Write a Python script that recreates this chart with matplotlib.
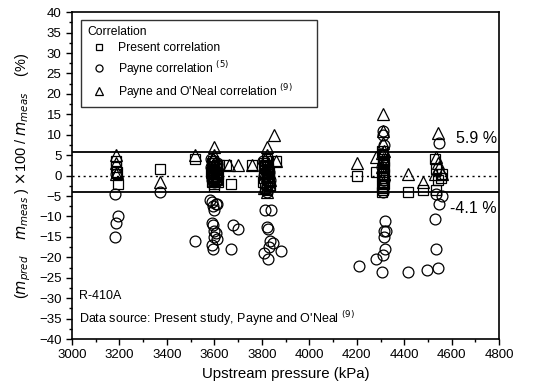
import matplotlib
matplotlib.use('Agg')
import matplotlib.pyplot as plt
from matplotlib.ticker import MultipleLocator

plt.rcParams['font.family'] = ['Liberation Sans', 'DejaVu Sans']

# Present correlation (squares)
present_p = [3185, 3185, 3190, 3195, 3370, 3520,
             3590, 3595, 3600, 3600, 3605, 3610, 3595, 3600, 3605, 3590, 3615, 3620,
             3585, 3590, 3595, 3600, 3605, 3610, 3615, 3590, 3600, 3610,
             3650, 3670, 3760,
             3810, 3815, 3820, 3825, 3830, 3820, 3815, 3825, 3830, 3820,
             3805, 3810, 3815, 3820, 3825, 3830, 3835, 3810, 3820, 3830, 3860,
             4200, 4280,
             4305, 4310, 4310, 4315, 4310, 4305, 4310, 4315, 4310, 4305, 4310,
             4310, 4315, 4305, 4310, 4315,
             4415, 4480, 4530, 4535, 4540, 4535, 4555, 4560]
present_e = [3.5, 2.0, 1.0, -2.0, 1.5, 4.0,
             3.0, 2.0, 1.0, 0.0, -1.0, 2.5, -0.5, -2.5, 1.5, 0.5, -1.5, 2.5,
             1.0, -1.5, 3.5, -2.0, 0.0, 1.0, 0.5, 2.0, 3.0, -1.0,
             2.5, -2.0, 2.5,
             3.0, 2.0, 1.0, 0.0, -1.0, -2.0, -3.0, 1.5, -0.5, 4.0,
             -1.5, 0.5, 2.5, -3.5, 3.5, 1.0, -2.5, -0.5, 2.0, -1.5, 3.5,
             0.0, 1.0,
             6.0, 5.0, 3.0, 2.0, 1.0, 0.0, -1.0, -2.0, -3.0, -4.0, 4.0,
             -0.5, 0.5, -2.5, -3.5, 3.5,
             -4.0, -3.5, 4.0, 1.5, -1.0, -3.5, -0.5, 0.5]

# Payne correlation (circles)
payne_p = [3180, 3195, 3185, 3180, 3185, 3370, 3520,
           3580, 3590, 3595, 3600, 3605, 3610, 3590, 3595, 3600, 3605, 3610, 3590,
           3595, 3600, 3585, 3610, 3600, 3595, 3605,
           3590, 3600, 3610, 3595, 3605, 3585, 3600,
           3670, 3680, 3700,
           3815, 3840, 3820, 3825, 3835, 3845, 3830, 3810, 3825, 3880, 3820,
           3805, 3815, 3825, 3835, 3820, 3830, 3810,
           4210, 4280, 4305, 4310, 4315, 4320, 4325, 4315, 4320, 4310,
           4310, 4315, 4310, 4305, 4315, 4310,
           4415, 4495, 4540, 4535, 4530, 4545, 4560, 4545, 4535]
payne_e = [-4.5, -10.0, -11.5, -15.0, 0.5, -4.0, -16.0,
           -6.0, -6.5, -7.5, -8.5, -7.0, -7.0, -11.5, -12.0, -13.5, -14.0, -15.5, -17.0,
           -18.0, -15.0, 4.0, 3.0, 2.0, 1.0, 0.0,
           -1.0, 1.5, 2.5, -0.5, 0.5, 2.0, -1.5,
           -18.0, -12.0, -13.0,
           -8.5, -8.5, -12.5, -13.0, -16.0, -16.5, -17.5, -19.0, -20.5, -18.5, -4.0,
           3.5, 2.0, 0.5, -1.0, -2.5, 1.0, 0.0,
           -22.0, -20.5, -23.5, -19.5, -13.5, -11.0, -13.5, -15.0, -18.0, 11.0,
           10.0, 7.5, 5.0, 2.0, -1.0, -4.0,
           -23.5, -23.0, -22.5, -18.0, -10.5, -7.0, -5.0, 8.0, -4.5]

# Payne and O'Neal correlation (triangles)
oneal_p = [3185, 3185, 3190, 3185, 3370, 3520,
           3600, 3600, 3595, 3605, 3600, 3590, 3610, 3600, 3595, 3605,
           3660, 3700, 3760,
           3820, 3820, 3815, 3825, 3820, 3830, 3815, 3850, 3860,
           3810, 3825, 3835, 3820,
           4200, 4280,
           4310, 4310, 4310, 4305, 4315, 4310, 4305, 4315, 4310,
           4415, 4480, 4540, 4535, 4540, 4545, 4530, 4560]
oneal_e = [5.0, 3.0, 1.0, 0.5, -1.5, 5.0,
           7.0, 5.0, 4.0, 2.0, 0.0, 1.0, 3.0, -1.0, 2.5, -0.5,
           2.5, 2.5, 2.5,
           7.0, 5.0, 4.0, 2.0, 0.0, -2.0, 1.0, 10.0, 3.5,
           -3.0, 3.0, -1.0, -4.0,
           3.0, 4.5,
           15.0, 11.0, 8.0, 5.5, 6.0, 4.0, 2.0, 0.5, -1.5,
           0.5, -1.5, 10.5, 4.5, 3.0, 2.0, 0.5, 0.5]

upper_band = 5.9
lower_band = -4.1

fig = plt.figure(figsize=(5.45, 3.92), dpi=100)
ax = fig.add_axes([0.132, 0.135, 0.784, 0.834])

mk = dict(linestyle='none', markerfacecolor='none', markeredgecolor='black', markeredgewidth=0.9)
ax.plot(present_p, present_e, marker='s', markersize=6.5, label='Present correlation', **mk)
ax.plot(payne_p, payne_e, marker='o', markersize=7.8, label='Payne correlation $^{(5)}$', **mk)
ax.plot(oneal_p, oneal_e, marker='^', markersize=8, label="Payne and O'Neal correlation $^{(9)}$", **mk)

# error band and zero line
ax.axhline(upper_band, color='black', lw=1.3)
ax.axhline(lower_band, color='black', lw=1.3)
ax.axhline(0, color='black', lw=1.0, ls=(0, (1.5, 2.5)))
ax.text(4790, 9.2, f'{upper_band} %', ha='right', va='center', fontsize=11.5)
ax.text(4790, -8.0, f'{lower_band} %', ha='right', va='center', fontsize=11.5)

ax.text(3030, -29.5, 'R-410A', fontsize=9, va='center')
ax.text(3030, -35, "Data source: Present study, Payne and O'Neal $^{(9)}$", fontsize=9, va='center')

ax.set_xlim(3000, 4800)
ax.set_ylim(-40, 40)
ax.xaxis.set_major_locator(MultipleLocator(200))
ax.xaxis.set_minor_locator(MultipleLocator(100))
ax.yaxis.set_major_locator(MultipleLocator(5))
ax.yaxis.set_minor_locator(MultipleLocator(2.5))
ax.tick_params(which='both', direction='out', labelsize=9.5, width=1)
ax.tick_params(which='major', length=4)
ax.tick_params(which='minor', length=2)
for s in ax.spines.values():
    s.set_linewidth(1.2)

ax.set_xlabel('Upstream pressure (kPa)', fontsize=10.8)
ax.set_ylabel(r'($m_{pred}$    $m_{meas}$ ) $\times$100 / $m_{meas}$    (%)', fontsize=10.5)

leg = ax.legend(loc='upper left', bbox_to_anchor=(0.021, 0.5, 0.553, 0.4755), mode='expand',
                borderaxespad=0, title='Correlation', fontsize=8.7, title_fontsize=8.7,
                markerscale=0.65, frameon=True, fancybox=False, edgecolor='black',
                borderpad=0.5, labelspacing=0.35, handlelength=2.0, handletextpad=0.6,
                alignment='left')
leg.get_frame().set_linewidth(1.0)

fig.savefig('out.png', dpi=100)
